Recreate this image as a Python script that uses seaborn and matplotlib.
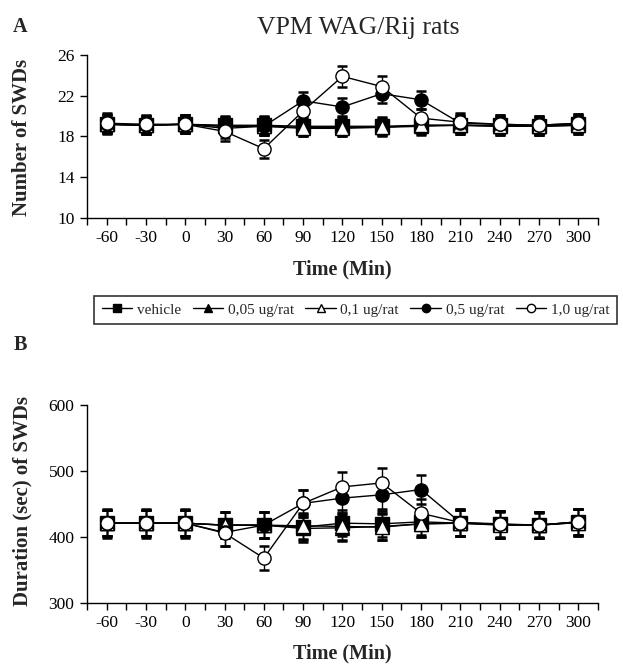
import numpy as np
import pandas as pd
import matplotlib
matplotlib.use("Agg")
import matplotlib.pyplot as plt
from matplotlib.lines import Line2D
import seaborn as sns

sns.set_theme(style="ticks")
plt.rcParams['font.family'] = ['Liberation Serif', 'DejaVu Serif']

time = [-60, -30, 0, 30, 60, 90, 120, 150, 180, 210, 240, 270, 300]
groups = ["vehicle", "0,05 ug/rat", "0,1 ug/rat", "0,5 ug/rat", "1,0 ug/rat"]

# Panel A: number of SWDs (mean, SEM)
n_vehicle = [19.2, 19.1, 19.2, 19.1, 19.1, 19.0, 19.0, 19.0, 19.1, 19.1, 19.1, 19.0, 19.2]
n_005 = [19.2, 19.1, 19.2, 19.0, 19.0, 18.9, 18.9, 18.9, 19.0, 19.1, 19.0, 19.0, 19.1]
n_01 = [19.2, 19.1, 19.2, 19.0, 19.0, 18.8, 18.8, 18.9, 19.1, 19.1, 19.0, 19.0, 19.1]
n_05 = [19.2, 19.1, 19.2, 18.8, 19.0, 21.5, 20.9, 22.2, 21.6, 19.3, 19.2, 19.1, 19.3]
n_10 = [19.3, 19.2, 19.2, 18.5, 16.8, 20.5, 23.9, 22.9, 19.8, 19.4, 19.2, 19.1, 19.3]
n_sem_vehicle = [1.0, 0.9, 0.9, 0.9, 0.9, 0.9, 0.9, 0.9, 0.9, 0.9, 0.9, 0.9, 0.9]
n_sem_005 = [0.9, 0.9, 0.9, 0.9, 0.9, 0.9, 0.9, 0.9, 0.9, 0.9, 0.9, 0.9, 0.9]
n_sem_01 = [0.9, 0.9, 0.9, 0.9, 0.9, 0.8, 0.8, 0.8, 0.8, 0.9, 0.9, 0.9, 0.9]
n_sem_05 = [0.9, 0.9, 0.9, 0.9, 0.9, 0.9, 0.9, 0.9, 0.9, 0.9, 0.9, 0.9, 0.9]
n_sem_10 = [1.0, 0.9, 0.9, 0.9, 0.9, 0.9, 1.0, 1.0, 0.9, 0.9, 0.9, 0.9, 0.9]

# Panel B: duration (sec) of SWDs (mean, SEM)
d_vehicle = [421, 421, 421, 418, 418, 415, 421, 420, 423, 421, 419, 418, 423]
d_005 = [421, 421, 421, 418, 418, 413, 414, 416, 420, 421, 419, 418, 422]
d_01 = [421, 421, 421, 418, 418, 417, 416, 415, 420, 421, 418, 418, 422]
d_05 = [421, 421, 421, 407, 418, 451, 459, 464, 472, 422, 419, 418, 423]
d_10 = [421, 421, 421, 406, 368, 451, 476, 482, 436, 422, 420, 418, 423]
d_sem_vehicle = [22, 22, 22, 20, 20, 20, 20, 20, 20, 20, 20, 20, 20]
d_sem_005 = [20, 20, 20, 20, 20, 20, 20, 20, 20, 20, 20, 20, 20]
d_sem_01 = [20, 20, 20, 20, 20, 20, 20, 20, 20, 20, 20, 20, 20]
d_sem_05 = [20, 20, 20, 20, 20, 20, 22, 22, 22, 20, 20, 20, 20]
d_sem_10 = [20, 20, 20, 20, 18, 20, 23, 22, 22, 20, 20, 18, 20]

styles = {
    "vehicle": dict(marker="s", mfc="black"),
    "0,05 ug/rat": dict(marker="^", mfc="black"),
    "0,1 ug/rat": dict(marker="^", mfc="white"),
    "0,5 ug/rat": dict(marker="o", mfc="black"),
    "1,0 ug/rat": dict(marker="o", mfc="white"),
}

def panel(ax, means, sems, ylim, yticks, ylabel):
    for g, m, s in zip(groups, means, sems):
        st = styles[g]
        ax.errorbar(time, m, yerr=s, fmt="none", ecolor="black",
                    elinewidth=1.0, capsize=3.5, capthick=1.8, zorder=2)
        df = pd.DataFrame({"time": time, "val": m})
        sns.lineplot(data=df, x="time", y="val", ax=ax, color="black",
                     linewidth=1.0, marker=st["marker"], markersize=9.5,
                     markerfacecolor=st["mfc"], markeredgecolor="black",
                     markeredgewidth=1.0, zorder=3)
    ax.set_xlim(-75, 315)
    ax.set_ylim(*ylim)
    xt = list(range(-75, 316, 15))
    ax.set_xticks(xt)
    ax.set_xticklabels([str(v) if (v % 30 == 0 and -60 <= v <= 300) else "" for v in xt])
    ax.set_yticks(yticks)
    ax.tick_params(direction="out", length=5, width=1, color="black",
                   labelsize=12.5, labelcolor="black", pad=4)
    for sp in ["top", "right"]:
        ax.spines[sp].set_visible(False)
    for sp in ["left", "bottom"]:
        ax.spines[sp].set_color("black")
        ax.spines[sp].set_linewidth(1.0)
    ax.set_xlabel("Time (Min)", fontsize=14.5, fontweight="bold", labelpad=9)
    ax.set_ylabel(ylabel, fontsize=15, fontweight="bold")

fig = plt.figure(figsize=(6.23, 6.64), dpi=100)
axA = fig.add_axes([0.1396, 0.6717, 0.820, 0.2455])
axB = fig.add_axes([0.1396, 0.0919, 0.820, 0.298])

panel(axA, [n_vehicle, n_005, n_01, n_05, n_10],
      [n_sem_vehicle, n_sem_005, n_sem_01, n_sem_05, n_sem_10],
      (10, 26), [10, 14, 18, 22, 26], "Number of SWDs")
panel(axB, [d_vehicle, d_005, d_01, d_05, d_10],
      [d_sem_vehicle, d_sem_005, d_sem_01, d_sem_05, d_sem_10],
      (300, 600), [300, 400, 500, 600], "Duration (sec) of SWDs")
axA.yaxis.set_label_coords(-0.107, 0.494)
axB.yaxis.set_label_coords(-0.107, 0.513)

fig.text(20 / 623, 1 - 27 / 664, "A", fontsize=14.5, fontweight="bold", ha="center", va="center")
fig.text(20 / 623, 1 - 345 / 664, "B", fontsize=14.5, fontweight="bold", ha="center", va="center")
fig.text(358 / 623, 1 - 28 / 664, "VPM WAG/Rij rats", fontsize=18.5, ha="center", va="center")

handles = [Line2D([0], [0], color="black", lw=1.0, marker=styles[g]["marker"],
                  markersize=6, markerfacecolor=styles[g]["mfc"],
                  markeredgecolor="black", markeredgewidth=1.0) for g in groups]
leg = fig.legend(handles, groups, loc="center", bbox_to_anchor=(355.5 / 623, 1 - 310 / 664),
                 ncol=5, frameon=True, fancybox=False, edgecolor="black",
                 fontsize=11, handlelength=2.0, handletextpad=0.3,
                 columnspacing=0.75, borderpad=0.5, borderaxespad=0)
leg.get_frame().set_linewidth(1.2)

fig.savefig("out.png", dpi=100)
